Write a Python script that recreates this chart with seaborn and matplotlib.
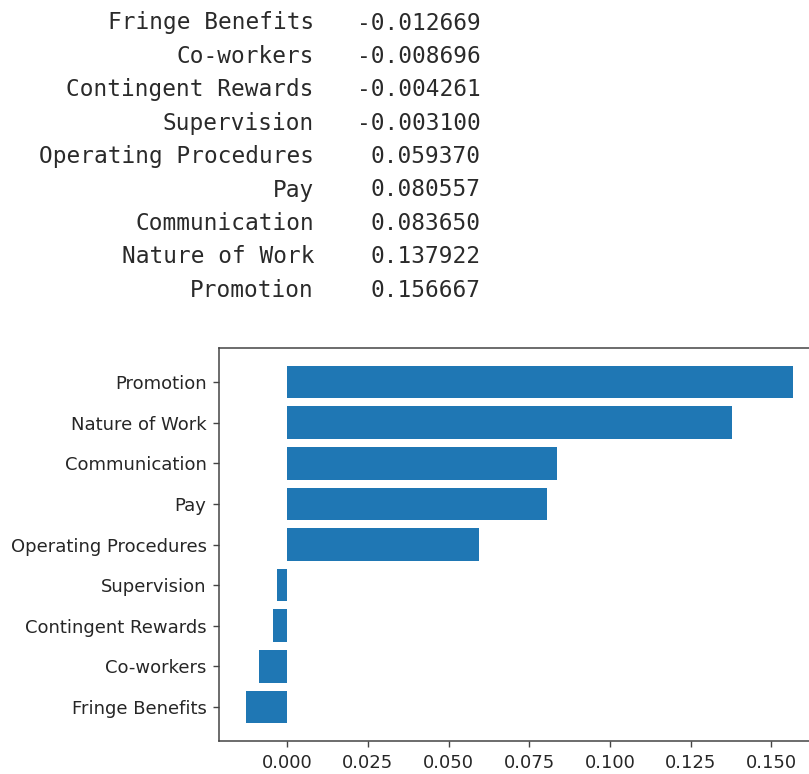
import matplotlib
matplotlib.use("Agg")
import matplotlib.pyplot as plt
import seaborn as sns
import pandas as pd

# Correlation of each job-satisfaction facet with the target, sorted ascending
facets = [
    "Fringe Benefits", "Co-workers", "Contingent Rewards", "Supervision",
    "Operating Procedures", "Pay", "Communication", "Nature of Work", "Promotion",
]
corr = [
    -0.012669, -0.008696, -0.004261, -0.003100,
    0.059370, 0.080557, 0.083650, 0.137922, 0.156667,
]

sns.set_style("white")
plt.rcParams["font.family"] = ["DejaVu Sans"]

W, H = 809, 774
fig = plt.figure(figsize=(W / 100, H / 100), dpi=100)

# Printed series listing above the chart
mono = "DejaVu Sans Mono"
row0, step = 29.5, 33.4
for i, (name, val) in enumerate(zip(facets, corr)):
    yb = 1 - (row0 + i * step) / H
    fig.text(314 / W, yb, name, ha="right", va="baseline",
             family=mono, fontsize=16.4, color="#2a2a2a")
    fig.text(481 / W, yb, f"{val:.6f}", ha="right", va="baseline",
             family=mono, fontsize=16.4, color="#2a2a2a")

# Horizontal bar chart (largest on top)
df = pd.DataFrame({"facet": facets, "corr": corr}).iloc[::-1]
ax = fig.add_axes([219 / W, (H - 741) / H, (820 - 219) / W, (741 - 348) / H])
sns.barplot(data=df, x="corr", y="facet", orient="h", color="#1f77b4",
            saturation=1, width=0.8, linewidth=0, ax=ax)

n = len(facets)
pad = 0.05 * (n - 1 + 0.8)
ax.set_ylim(n - 1 + 0.4 + pad, -0.4 - pad)
lo, hi = min(corr), max(corr)
span = hi - lo
ax.set_xlim(lo - 0.05 * span, hi + 0.05 * span)
ax.set_xticks([0.0, 0.025, 0.05, 0.075, 0.1, 0.125, 0.15])
ax.xaxis.set_major_formatter(matplotlib.ticker.FormatStrFormatter("%.3f"))
ax.set_xlabel("")
ax.set_ylabel("")

for s in ax.spines.values():
    s.set_visible(True)
    s.set_color("#444444")
    s.set_linewidth(1.1)
ax.tick_params(axis="both", which="major", length=4.5, width=1.0, pad=4.5,
               labelsize=13, labelcolor="#262626", color="#444444",
               bottom=True, left=True)

fig.savefig("out.png", dpi=100)
